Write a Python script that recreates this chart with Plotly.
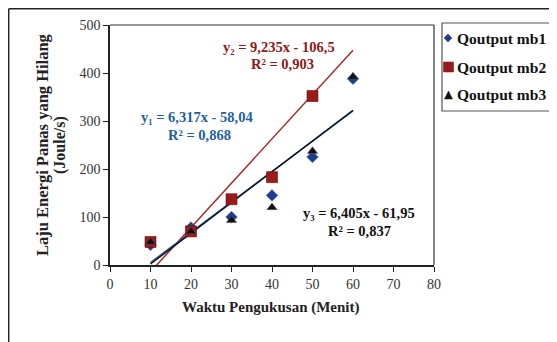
import plotly.graph_objects as go

# ---- data ----
minutes = [10, 20, 30, 40, 50, 60]
q_mb1 = [42, 78, 100, 145, 225, 388]
q_mb2_x = [10, 20, 30, 40, 50]
q_mb2 = [48, 70, 137, 183, 352]
q_mb3 = [48, 70, 93, 120, 237, 392]
series_names = ["Qoutput mb1", "Qoutput mb2", "Qoutput mb3"]

# trendline coefficients (slope, intercept) as printed on the chart
trend1 = (6.317, -58.04)
trend2 = (9.235, -106.5)
trend3 = (6.405, -61.95)
trend_x = [10, 60]

x_ticks = [0, 10, 20, 30, 40, 50, 60, 70, 80]
y_ticks = [0, 100, 200, 300, 400, 500]

# page body has an 8px margin; figure sized to fit the 557x342 window
OFF = 8
W, H = 557 - OFF, 342 - OFF
L, R, T, B = 110, 434, 25, 265  # plot area in window pixels

def px(xp):
    return (xp - L) / (R - L)

def py(yp):
    return (B - yp) / (B - T)

SERIF = "Liberation Serif"
RED = "#8B1A1A"
NAVY = "#1F3C88"
BLUE = "#1F5FA0"
SQ_RED = "#9B1B1B"

fig = go.Figure()

def tl(coef):
    return [coef[0] * x + coef[1] for x in trend_x]

fig.add_trace(go.Scatter(x=trend_x, y=tl(trend2), mode="lines",
                         line=dict(color="#A52A2A", width=1.5), showlegend=False, hoverinfo="skip"))
fig.add_trace(go.Scatter(x=trend_x, y=tl(trend1), mode="lines",
                         line=dict(color=BLUE, width=1.5), showlegend=False, hoverinfo="skip"))
fig.add_trace(go.Scatter(x=trend_x, y=tl(trend3), mode="lines",
                         line=dict(color="#111111", width=1.5), showlegend=False, hoverinfo="skip"))

fig.add_trace(go.Scatter(x=minutes, y=q_mb1, mode="markers", name=series_names[0],
                         showlegend=False,
                         marker=dict(symbol="diamond", size=9, color=NAVY,
                                     line=dict(color="#3b6fc0", width=0.5))))
fig.add_trace(go.Scatter(x=q_mb2_x, y=q_mb2, mode="markers", name=series_names[1],
                         showlegend=False,
                         marker=dict(symbol="square", size=11, color=SQ_RED,
                                     line=dict(color="#6b0f0f", width=0.6))))
fig.add_trace(go.Scatter(x=minutes, y=q_mb3, mode="markers", name=series_names[2],
                         showlegend=False,
                         marker=dict(symbol="triangle-up", size=9, color="#111111",
                                     line=dict(color="#556", width=0.5))))

axis_common = dict(showgrid=False, zeroline=False, showline=True, linecolor="#222",
                   linewidth=1.5, ticks="outside", ticklen=5, tickwidth=1.2,
                   tickcolor="#222", mirror=False,
                   tickfont=dict(family=SERIF, size=14, color="#333"))

fig.update_xaxes(range=[0, 80], tickvals=x_ticks, **axis_common)
fig.update_yaxes(range=[0, 500], tickvals=y_ticks, **axis_common)

def pline(x0, y0, x1, y1, color, width):
    return dict(type="line", xref="paper", yref="paper",
                x0=px(x0), x1=px(x1), y0=py(y0), y1=py(y1),
                line=dict(color=color, width=width))

def ppath(points, fill):
    d = "M " + " L ".join(f"{px(a):.5f},{py(b):.5f}" for a, b in points) + " Z"
    return dict(type="path", xref="paper", yref="paper", path=d,
                fillcolor=fill, line=dict(color=fill, width=0.5))

shapes = [
    pline(L, T, R, T, "#333", 1.2),
    pline(R, T, R, B, "#333", 1.2),
    # outer frame
    pline(8.7, 8.7, 8.7, 360, "#222", 1.5),
    pline(8.7, 8.7, 570, 8.7, "#222", 1.5),
    # legend box
    dict(type="rect", xref="paper", yref="paper",
         x0=px(442), x1=px(554), y0=py(23), y1=py(111),
         fillcolor="white", line=dict(color="#555", width=1.2)),
    # legend symbols
    ppath([(448, 34), (452, 38), (448, 42), (444, 38)], NAVY),
    dict(type="rect", xref="paper", yref="paper",
         x0=px(443.5), x1=px(453.5), y0=py(62), y1=py(72),
         fillcolor=SQ_RED, line=dict(color="#6b0f0f", width=0.5)),
    ppath([(448.5, 91), (452.5, 99), (444.5, 99)], "#111111"),
]

ann_font = dict(family=SERIF, size=14.5)
annotations = [
    dict(x=px(279), y=py(47), text="y₂ = 9,235x - 106,5", font=dict(color=RED, **ann_font)),
    dict(x=px(282), y=py(64), text="R² = 0,903", font=dict(color=RED, **ann_font)),
    dict(x=px(197), y=py(117), text="y₁ = 6,317x - 58,04", font=dict(color=BLUE, **ann_font)),
    dict(x=px(199), y=py(135), text="R² = 0,868", font=dict(color=BLUE, **ann_font)),
    dict(x=px(359), y=py(213), text="y₃ = 6,405x - 61,95", font=dict(color="#111", **ann_font)),
    dict(x=px(359), y=py(231), text="R² = 0,837", font=dict(color="#111", **ann_font)),
    dict(x=px(271), y=py(307), text="Waktu Pengukusan (Menit)",
         font=dict(family=SERIF, size=15, color="#222")),
    dict(x=px(42), y=py(145), text="Laju Energi Panas yang Hilang", textangle=-90,
         font=dict(family=SERIF, size=16.5, color="#222")),
    dict(x=px(60), y=py(145), text="(Joule/s)", textangle=-90,
         font=dict(family=SERIF, size=16, color="#222")),
]
for a in annotations:
    a.update(xanchor="center")
leg_y = [38, 67, 95]
for name, yy in zip(series_names, leg_y):
    annotations.append(dict(x=px(455), y=py(yy), text=name, xanchor="left",
                            font=dict(family=SERIF, size=15.5, color="#111")))
for a in annotations:
    a.update(xref="paper", yref="paper", showarrow=False, yanchor="middle")
    a["text"] = "<b>" + a["text"] + "</b>"

fig.update_layout(
    width=W, height=H,
    margin=dict(l=L - OFF, r=W - (R - OFF), t=T - OFF, b=H - (B - OFF), autoexpand=False),
    paper_bgcolor="white", plot_bgcolor="white",
    shapes=shapes, annotations=annotations,
    showlegend=False,
)

fig.write_html("out.html")
